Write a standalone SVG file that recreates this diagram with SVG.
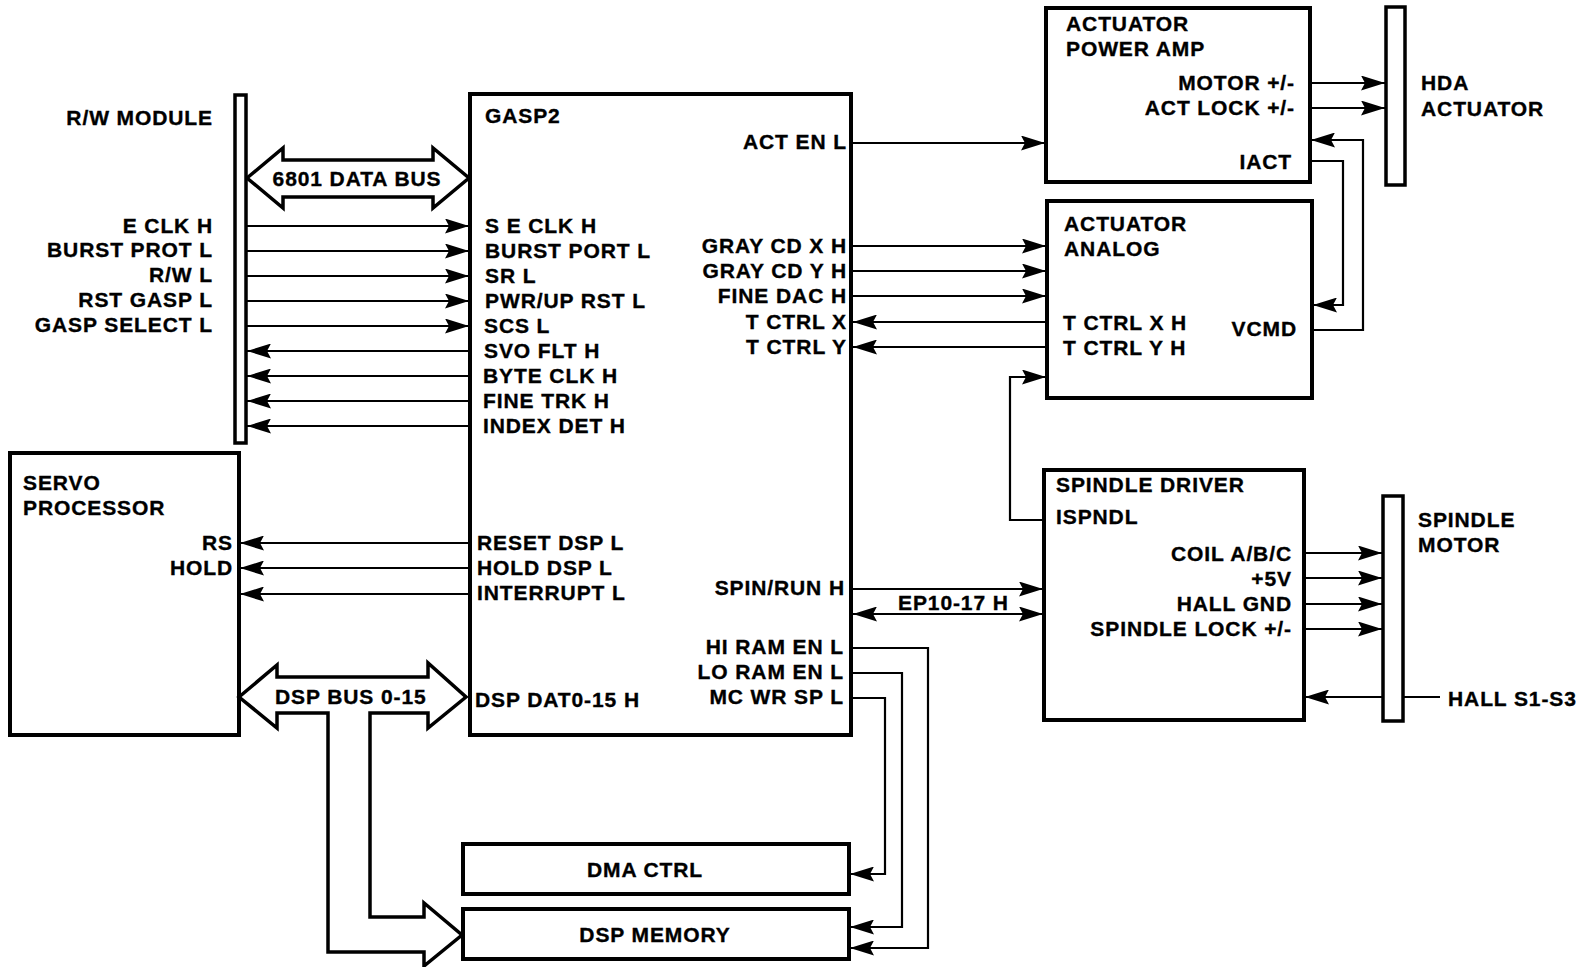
<svg xmlns="http://www.w3.org/2000/svg" width="1591" height="967" viewBox="0 0 1591 967">
<defs>
<style>
.box{fill:none;stroke:#000;stroke-width:4}
.bar{fill:#fff;stroke:#000;stroke-width:3.5}
.t{font-family:"Liberation Sans",Arial,Helvetica,sans-serif;font-weight:bold;font-size:21px;letter-spacing:0.9px;fill:#000;stroke:#000;stroke-width:0.35px}
.e{text-anchor:end}
.m{text-anchor:middle}
.c{fill:none;stroke:#000;stroke-width:2.2}
.a{marker-end:url(#ah)}
.aa{marker-start:url(#ah);marker-end:url(#ah)}
.bus{fill:#fff;stroke:#000;stroke-width:3.5;stroke-linejoin:miter}
</style>
<marker id="ah" viewBox="0 0 24 15" refX="24" refY="7.5" markerWidth="24" markerHeight="15" markerUnits="userSpaceOnUse" orient="auto-start-reverse">
<path d="M0,0 L24,7.5 L0,15 L4,7.5 Z" fill="#000"/>
</marker>
</defs>
<rect width="1591" height="967" fill="#fff"/>

<g id="connectors">
<path class="c a" d="M246,226 H469"/>
<path class="c a" d="M246,251 H469"/>
<path class="c a" d="M246,276 H469"/>
<path class="c a" d="M246,301 H469"/>
<path class="c a" d="M246,326 H469"/>
<path class="c a" d="M469,351 H247"/>
<path class="c a" d="M469,376 H247"/>
<path class="c a" d="M469,401 H247"/>
<path class="c a" d="M469,426 H247"/>
<path class="c a" d="M469,543 H240"/>
<path class="c a" d="M469,568 H240"/>
<path class="c a" d="M469,594 H240"/>
<path class="c a" d="M852,143 H1045"/>
<path class="c a" d="M852,246 H1046"/>
<path class="c a" d="M852,271 H1046"/>
<path class="c a" d="M852,296 H1046"/>
<path class="c a" d="M1046,322 H853"/>
<path class="c a" d="M1046,347 H853"/>
<path class="c a" d="M1310,83 H1385"/>
<path class="c a" d="M1310,108 H1385"/>
<path class="c a" d="M1310,161 H1343 V305 H1313"/>
<path class="c a" d="M1313,330 H1363 V140 H1311"/>
<path class="c a" d="M1044,520 H1010 V377 H1046"/>
<path class="c a" d="M852,589 H1043"/>
<path class="c aa" d="M853,614 H1043"/>
<path class="c a" d="M1304,553 H1382"/>
<path class="c a" d="M1304,578 H1382"/>
<path class="c a" d="M1304,604 H1382"/>
<path class="c a" d="M1304,629 H1382"/>
<path class="c a" d="M1440,697 H1305"/>
<path class="c a" d="M851,648 H928 V948 H850"/>
<path class="c a" d="M851,673 H902 V927 H850"/>
<path class="c a" d="M851,698 H885 V874 H850"/>
<polygon class="bus" points="247,178 283,148 283,160 433,160 433,148 469,178 433,208 433,197 283,197 283,208"/>
<polygon class="bus" points="239,697 277,665 277,677 428,677 428,663 466,697 428,728 428,713 370,713 370,917 424,917 424,903 462,935 424,966 424,952 328,952 328,713 277,713 277,728"/>
<text class="t m" x="357" y="186">6801 DATA BUS</text>
<text class="t" x="275" y="704">DSP BUS 0-15</text>
<text class="t" x="898" y="610">EP10-17 H</text>
</g>

<g id="rw-module">
<rect class="bar" x="235" y="95" width="11" height="348"/>
<text class="t e" x="213" y="125">R/W MODULE</text>
<text class="t e" x="213" y="233">E CLK H</text>
<text class="t e" x="213" y="257">BURST PROT L</text>
<text class="t e" x="213" y="282">R/W L</text>
<text class="t e" x="213" y="307">RST GASP L</text>
<text class="t e" x="213" y="332">GASP SELECT L</text>
</g>

<g id="gasp2">
<rect class="box" x="470" y="94" width="381" height="641"/>
<text class="t" x="485" y="123">GASP2</text>
<text class="t" x="485" y="233">S E CLK H</text>
<text class="t" x="485" y="258">BURST PORT L</text>
<text class="t" x="485" y="283">SR L</text>
<text class="t" x="485" y="308">PWR/UP RST L</text>
<text class="t" x="484" y="333">SCS L</text>
<text class="t" x="484" y="358">SVO FLT H</text>
<text class="t" x="483" y="383">BYTE CLK H</text>
<text class="t" x="483" y="408">FINE TRK H</text>
<text class="t" x="483" y="433">INDEX DET H</text>
<text class="t" x="477" y="550">RESET DSP L</text>
<text class="t" x="477" y="575">HOLD DSP L</text>
<text class="t" x="477" y="600">INTERRUPT L</text>
<text class="t" x="475" y="707">DSP DAT0-15 H</text>
<text class="t e" x="847" y="149">ACT EN L</text>
<text class="t e" x="847" y="253">GRAY CD X H</text>
<text class="t e" x="847" y="278">GRAY CD Y H</text>
<text class="t e" x="847" y="303">FINE DAC H</text>
<text class="t e" x="847" y="329">T CTRL X</text>
<text class="t e" x="847" y="354">T CTRL Y</text>
<text class="t e" x="845" y="595">SPIN/RUN H</text>
<text class="t e" x="844" y="654">HI RAM EN L</text>
<text class="t e" x="844" y="679">LO RAM EN L</text>
<text class="t e" x="844" y="704">MC WR SP L</text>
</g>

<g id="servo-processor">
<rect class="box" x="10" y="453" width="229" height="282"/>
<text class="t" x="23" y="490">SERVO</text>
<text class="t" x="23" y="515">PROCESSOR</text>
<text class="t e" x="233" y="550">RS</text>
<text class="t e" x="233" y="575">HOLD</text>
</g>

<g id="actuator-power-amp">
<rect class="box" x="1046" y="8" width="264" height="174"/>
<text class="t" x="1066" y="31">ACTUATOR</text>
<text class="t" x="1066" y="56">POWER AMP</text>
<text class="t e" x="1295" y="90">MOTOR +/-</text>
<text class="t e" x="1295" y="115">ACT LOCK +/-</text>
<text class="t e" x="1292" y="169">IACT</text>
</g>

<g id="hda-actuator">
<rect class="bar" x="1386" y="7" width="19" height="178"/>
<text class="t" x="1421" y="90">HDA</text>
<text class="t" x="1421" y="116">ACTUATOR</text>
</g>

<g id="actuator-analog">
<rect class="box" x="1047" y="201" width="265" height="197"/>
<text class="t" x="1064" y="231">ACTUATOR</text>
<text class="t" x="1064" y="256">ANALOG</text>
<text class="t" x="1063" y="330">T CTRL X H</text>
<text class="t" x="1063" y="355">T CTRL Y H</text>
<text class="t e" x="1297" y="336">VCMD</text>
</g>

<g id="spindle-driver">
<rect class="box" x="1044" y="470" width="260" height="250"/>
<text class="t" x="1056" y="492">SPINDLE DRIVER</text>
<text class="t" x="1056" y="524">ISPNDL</text>
<text class="t e" x="1292" y="561">COIL A/B/C</text>
<text class="t e" x="1292" y="586">+5V</text>
<text class="t e" x="1292" y="611">HALL GND</text>
<text class="t e" x="1292" y="636">SPINDLE LOCK +/-</text>
</g>

<g id="spindle-motor">
<rect class="bar" x="1383" y="496" width="20" height="225"/>
<text class="t" x="1418" y="527">SPINDLE</text>
<text class="t" x="1418" y="552">MOTOR</text>
<text class="t" x="1448" y="706">HALL S1-S3</text>
</g>

<g id="dma-ctrl">
<rect class="box" x="463" y="844" width="386" height="50"/>
<text class="t m" x="645" y="877">DMA CTRL</text>
</g>

<g id="dsp-memory">
<rect class="box" x="463" y="909" width="386" height="50"/>
<text class="t m" x="655" y="942">DSP MEMORY</text>
</g>
</svg>
